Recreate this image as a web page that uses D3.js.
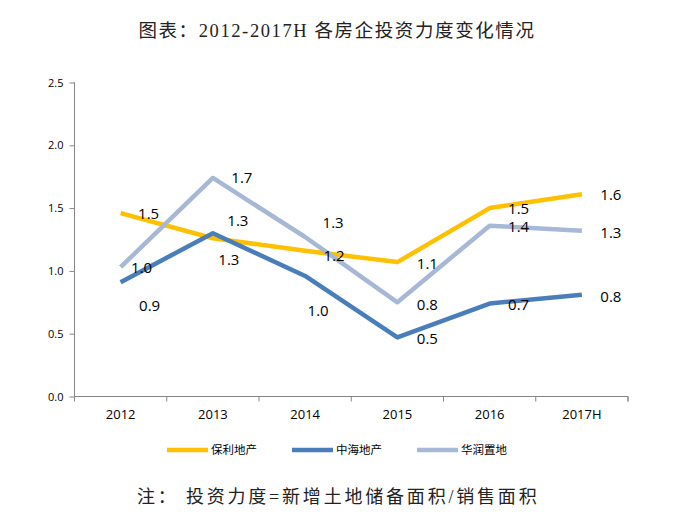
<!DOCTYPE html>
<html><head><meta charset="utf-8">
<script src="https://cdn.jsdelivr.net/npm/d3@7"></script>
<style>body{margin:0;background:#fff;} svg{display:block;}</style>
</head><body>
<svg id="c" width="689" height="513"></svg>
<script>
const categories = ["2012","2013","2014","2015","2016","2017H"];
const seriesNames = ["保利地产","中海地产","华润置地"];
const poly = [1.46, 1.26, 1.16, 1.07, 1.50, 1.61];
const coli = [0.91, 1.30, 0.96, 0.47, 0.74, 0.81];
const crl  = [1.03, 1.74, 1.27, 0.75, 1.36, 1.32];
const yTicks = [0, 0.5, 1.0, 1.5, 2.0, 2.5];
const colors = ["#FFC000", "#4A7EBB", "#A6B8D6"];
// label offsets (dx, dy) relative to data points
const labelOffsets = [
  [[28,0],[25,-18],[29,5],[30,1],[29,0],[29,0]],
  [[29,23],[16,26],[13,35],[30,1],[29,1],[29,2]],
  [[21,0],[29,0],[28,-14],[30,2],[29,1],[29,2]]
];
const title = "图表：2012-2017H 各房企投资力度变化情况";
const note = "注： 投资力度=新增土地储备面积/销售面积";

const series = [poly, coli, crl];
const svg = d3.select("#c");
const L = 74.5, R = 628, T = 82.5, B = 396.5;
const x = d3.scaleBand().domain(categories).range([L, R]);
const y = d3.scaleLinear().domain([0, 2.5]).range([B, T]);
const axisColor = "#868686";

svg.append("text").attr("x", 337).attr("y", 37).attr("text-anchor","middle")
  .attr("font-family","'Liberation Serif','Noto Sans CJK SC',serif").attr("font-size",18.5)
  .attr("letter-spacing",1.6).attr("fill","#222").text(title);

// y axis
const ya = svg.append("g").attr("transform",`translate(${L},0)`)
  .call(d3.axisLeft(y).tickValues(yTicks).tickFormat(d3.format(".1f")).tickSize(5).tickPadding(6));
ya.select(".domain").attr("stroke",axisColor).attr("d",`M-0.5,${T}H0V${B}`);
ya.selectAll(".tick line").attr("stroke",axisColor);
ya.selectAll("text").attr("font-family","'Open Sans',sans-serif").attr("font-size",11).attr("fill","#000");

// x axis
const xa = svg.append("g").attr("transform",`translate(0,${B})`)
  .call(d3.axisBottom(x).tickSize(0).tickPadding(13));
xa.select(".domain").attr("stroke",axisColor).attr("d",`M${L},0H${R}V5`);
xa.selectAll("text").attr("font-family","'Open Sans',sans-serif").attr("font-size",13).attr("fill","#000");
const edges = categories.map(c => x(c)).concat([R]);
xa.selectAll(".edge").data(edges).join("line").attr("class","edge")
  .attr("x1",d=>d).attr("x2",d=>d).attr("y1",0).attr("y2",5).attr("stroke",axisColor);

const cx = c => x(c) + x.bandwidth()/2;
const line = d3.line().x((d,i)=>cx(categories[i])).y(d=>y(d));

series.forEach((s, k) => {
  svg.append("path").datum(s).attr("d", line).attr("fill","none")
    .attr("stroke", colors[k]).attr("stroke-width", 4.5).attr("stroke-linejoin","round");
});
series.forEach((s, k) => {
  svg.append("g").selectAll("text").data(s).join("text")
    .attr("x",(d,i)=>cx(categories[i]) + labelOffsets[k][i][0])
    .attr("y",(d,i)=>y(d) + labelOffsets[k][i][1])
    .attr("dy","0.36em").attr("text-anchor","middle")
    .attr("font-family","'Open Sans',sans-serif").attr("font-size",15).attr("fill","#000")
    .text(d => d3.format(".1f")(d));
});

// legend
const legX = [167, 292, 417];
const lg = svg.append("g");
seriesNames.forEach((n, k) => {
  lg.append("line").attr("x1",legX[k]).attr("x2",legX[k]+41).attr("y1",450).attr("y2",450)
    .attr("stroke",colors[k]).attr("stroke-width",4.5);
  lg.append("text").attr("x",legX[k]+44).attr("y",450).attr("dy","0.36em")
    .attr("font-family","'Noto Sans CJK SC',sans-serif").attr("font-size",11.5).attr("fill","#000").text(n);
});

svg.append("text").attr("x",137).attr("y",497).attr("dy","0.36em")
  .attr("font-family","'Liberation Serif','Noto Sans CJK SC',serif").attr("font-size",18)
  .attr("letter-spacing",2.8).attr("fill","#222").text(note);
</script>
</body></html>
